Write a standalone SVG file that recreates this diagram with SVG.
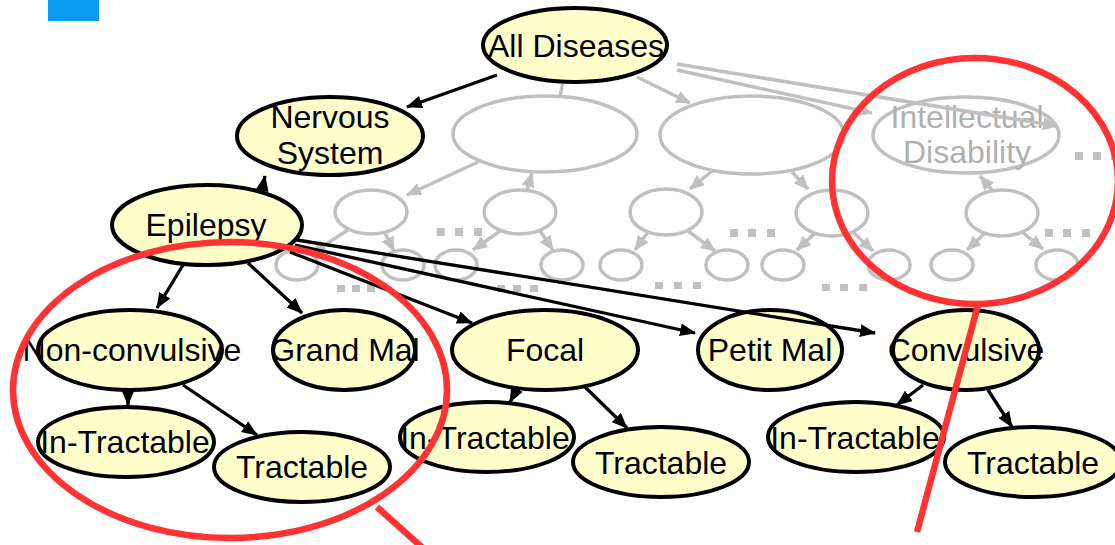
<svg xmlns="http://www.w3.org/2000/svg" width="1115" height="545" viewBox="0 0 1115 545">
  <style>
    .node ellipse { fill: #ffffcc; stroke: #000; stroke-width: 4; }
    .node text { font-family: "Liberation Sans", Arial, sans-serif; font-size: 32px; fill: #000; text-anchor: middle; }
    .ghost ellipse { fill: #fff; stroke: #c0c0c0; stroke-width: 3.5; }
    .ghost text { font-family: "Liberation Sans", Arial, sans-serif; font-size: 32px; fill: #b0b0b0; text-anchor: middle; }
    .gedge { fill: none; stroke: #c0c0c0; stroke-width: 3.5; marker-end: url(#gArrow); }
    .gline { fill: none; stroke: #c0c0c0; stroke-width: 3.5; }
    .edge { fill: none; stroke: #000; stroke-width: 3.3; marker-end: url(#bArrow); }
    .dots rect { fill: #c0c0c0; }
    .mark { fill: none; stroke: #ff3333; stroke-width: 6.5; }
  </style>
  <defs>
    <marker id="bArrow" markerUnits="userSpaceOnUse" markerWidth="16" markerHeight="13" refX="15" refY="6.5" orient="auto">
      <path d="M0,0 L16,6.5 L0,13 z" fill="#000"/>
    </marker>
    <marker id="gArrow" markerUnits="userSpaceOnUse" markerWidth="15" markerHeight="13" refX="14" refY="6.5" orient="auto">
      <path d="M0,0 L15,6.5 L0,13 z" fill="#c0c0c0"/>
    </marker>
  </defs>

  <!-- corner tab -->
  <rect x="48" y="0" width="51" height="21" fill="#0a9cf5"/>

  <!-- faded part of the hierarchy -->
  <g id="faded-nodes" class="ghost">
    <ellipse cx="545" cy="134" rx="92" ry="38"/>
    <ellipse cx="752" cy="135" rx="92" ry="39"/>
    <g id="intellectual-disability">
      <ellipse cx="966" cy="135" rx="93" ry="38"/>
      <text x="967" y="128">Intellectual</text>
      <text x="967" y="163">Disability</text>
    </g>
    <ellipse cx="371" cy="212" rx="36" ry="22"/>
    <ellipse cx="520" cy="212" rx="36" ry="22"/>
    <ellipse cx="666" cy="212" rx="36" ry="23"/>
    <ellipse cx="832" cy="213" rx="36" ry="23"/>
    <ellipse cx="1002" cy="213" rx="36" ry="23"/>
    <ellipse cx="297" cy="265" rx="21" ry="15"/>
    <ellipse cx="403" cy="265" rx="21" ry="15"/>
    <ellipse cx="456" cy="265" rx="21" ry="15"/>
    <ellipse cx="562" cy="265" rx="21" ry="15"/>
    <ellipse cx="621" cy="265" rx="21" ry="15"/>
    <ellipse cx="727" cy="265" rx="21" ry="15"/>
    <ellipse cx="783" cy="265" rx="21" ry="15"/>
    <ellipse cx="889" cy="265" rx="21" ry="15"/>
    <ellipse cx="952" cy="265" rx="21" ry="15"/>
    <ellipse cx="1057" cy="265" rx="21" ry="15"/>
  </g>

  <g id="faded-connectors">
    <path class="gline" d="M563,82 L560,96"/>
    <path class="gedge" d="M637,77 L690,103"/>
    <path class="gedge" d="M677,64 L1057,126"/>
    <path class="gedge" d="M677,70 L872,113"/>
    <path class="gedge" d="M478,162 L407,195"/>
    <path class="gedge" d="M527,190 L532,173"/>
    <path class="gedge" d="M712,171 L690,189"/>
    <path class="gedge" d="M792,172 L808,189"/>
    <path class="gedge" d="M992,190 L980,176"/>
    <path class="gedge" d="M348,230 L312,253"/>
    <path class="gedge" d="M385,233 L394,251"/>
    <path class="gedge" d="M500,231 L473,250"/>
    <path class="gedge" d="M540,231 L553,250"/>
    <path class="gedge" d="M648,232 L635,250"/>
    <path class="gedge" d="M688,231 L715,251"/>
    <path class="gedge" d="M815,233 L797,250"/>
    <path class="gedge" d="M853,232 L873,251"/>
    <path class="gedge" d="M985,233 L967,250"/>
    <path class="gedge" d="M1022,232 L1043,249"/>
  </g>

  <!-- elided siblings -->
  <g id="ellipses" class="dots">
    <rect x="1075" y="152" width="8" height="8"/>
    <rect x="1093" y="152" width="8" height="8"/>
    <rect x="1111" y="152" width="8" height="8"/>
    <rect x="437" y="228" width="8" height="8"/>
    <rect x="455" y="228" width="8" height="8"/>
    <rect x="474" y="228" width="8" height="8"/>
    <rect x="730" y="229" width="8" height="8"/>
    <rect x="748" y="229" width="8" height="8"/>
    <rect x="767" y="229" width="8" height="8"/>
    <rect x="1045" y="229" width="8" height="8"/>
    <rect x="1063" y="229" width="8" height="8"/>
    <rect x="1082" y="229" width="8" height="8"/>
    <rect x="337" y="285" width="8" height="7"/>
    <rect x="352" y="285" width="8" height="7"/>
    <rect x="367" y="285" width="8" height="7"/>
    <rect x="497" y="285" width="8" height="7"/>
    <rect x="513" y="285" width="8" height="7"/>
    <rect x="530" y="285" width="8" height="7"/>
    <rect x="655" y="282" width="8" height="7"/>
    <rect x="674" y="282" width="8" height="7"/>
    <rect x="693" y="282" width="8" height="7"/>
    <rect x="822" y="284" width="8" height="7"/>
    <rect x="840" y="284" width="8" height="7"/>
    <rect x="859" y="284" width="8" height="7"/>
  </g>

  <!-- highlighted path -->
  <g id="all-diseases" class="node">
    <ellipse cx="575" cy="45" rx="92" ry="37"/>
    <text x="576" y="57">All Diseases</text>
  </g>
  <g id="nervous-system" class="node">
    <ellipse cx="330" cy="136" rx="93" ry="39"/>
    <text x="330" y="128">Nervous</text>
    <text x="330" y="164">System</text>
  </g>
  <g id="epilepsy" class="node">
    <ellipse cx="207" cy="225" rx="95" ry="40"/>
    <text x="206" y="236">Epilepsy</text>
  </g>
  <g id="non-convulsive" class="node">
    <ellipse cx="130" cy="350" rx="92" ry="40"/>
    <text x="132" y="361">Non-convulsive</text>
  </g>
  <g id="grand-mal" class="node">
    <ellipse cx="344" cy="350" rx="71" ry="40"/>
    <text x="345" y="361">Grand Mal</text>
  </g>
  <g id="focal" class="node">
    <ellipse cx="545" cy="350" rx="93" ry="40"/>
    <text x="545" y="361">Focal</text>
  </g>
  <g id="petit-mal" class="node">
    <ellipse cx="770" cy="350" rx="72" ry="40"/>
    <text x="770" y="361">Petit Mal</text>
  </g>
  <g id="convulsive" class="node">
    <ellipse cx="966" cy="350" rx="73" ry="40"/>
    <text x="966" y="361">Convulsive</text>
  </g>
  <g id="non-convulsive-intractable" class="node">
    <ellipse cx="126" cy="442" rx="88" ry="35"/>
    <text x="125" y="453">In-Tractable</text>
  </g>
  <g id="non-convulsive-tractable" class="node">
    <ellipse cx="302" cy="467" rx="88" ry="35"/>
    <text x="302" y="478">Tractable</text>
  </g>
  <g id="focal-intractable" class="node">
    <ellipse cx="487" cy="437" rx="87" ry="35"/>
    <text x="485" y="449">In-Tractable</text>
  </g>
  <g id="focal-tractable" class="node">
    <ellipse cx="661" cy="462" rx="88" ry="35"/>
    <text x="661" y="474">Tractable</text>
  </g>
  <g id="convulsive-intractable" class="node">
    <ellipse cx="856" cy="437" rx="88" ry="35"/>
    <text x="855" y="449">In-Tractable</text>
  </g>
  <g id="convulsive-tractable" class="node">
    <ellipse cx="1033" cy="462" rx="88" ry="35"/>
    <text x="1033" y="474">Tractable</text>
  </g>

  <g id="connectors">
    <path class="edge" d="M497,75 L407,107"/>
    <path class="edge" d="M262,191 L265,176"/>
    <path class="edge" d="M183,265 L157,308"/>
    <path class="edge" d="M248,263 L302,313"/>
    <path class="edge" d="M290,252 L472,323"/>
    <path class="edge" d="M295,245 L695,333"/>
    <path class="edge" d="M297,240 L875,333"/>
    <path class="edge" d="M128,389 L128,405"/>
    <path class="edge" d="M183,385 L257,435"/>
    <path class="edge" d="M518,387 L510,402"/>
    <path class="edge" d="M585,387 L627,428"/>
    <path class="edge" d="M923,385 L897,405"/>
    <path class="edge" d="M988,390 L1012,427"/>
  </g>

  <!-- hand-drawn emphasis -->
  <g id="annotations">
    <ellipse class="mark" cx="230" cy="390" rx="217" ry="148"/>
    <path class="mark" d="M377,507 L425,550"/>
    <ellipse class="mark" cx="975" cy="181" rx="143" ry="123"/>
    <path class="mark" d="M978,305 L917,532"/>
  </g>
</svg>
